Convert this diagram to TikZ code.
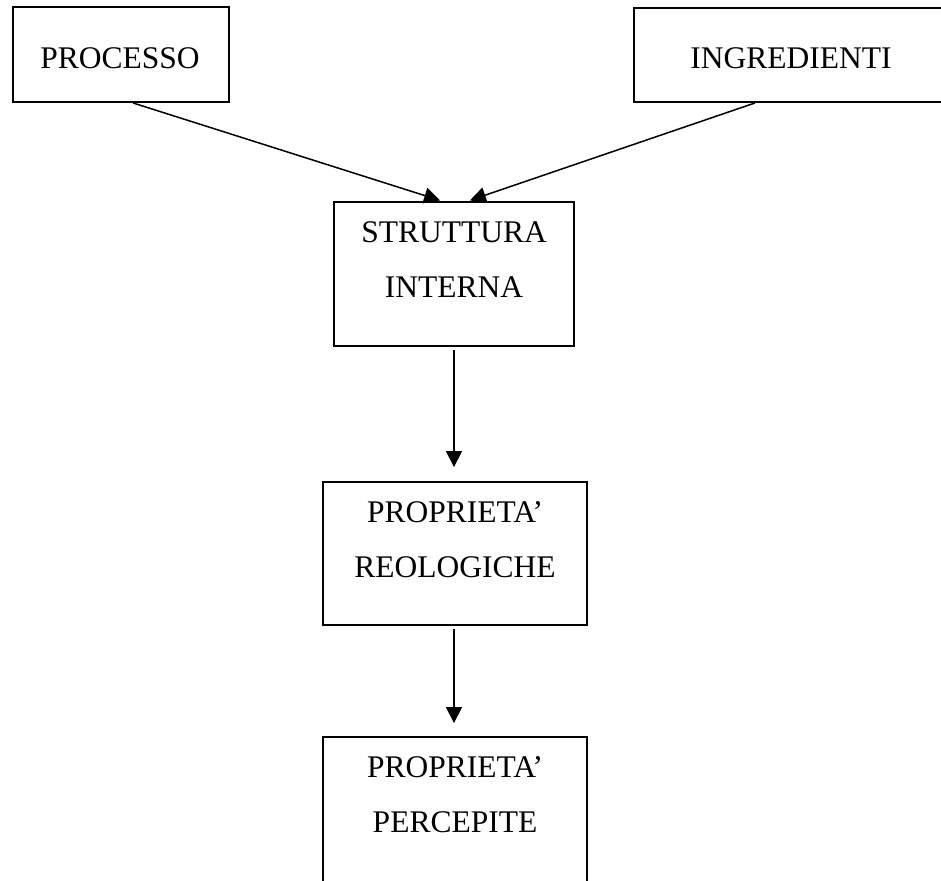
\documentclass[tikz,border=0pt]{standalone}
\usepackage{fontspec}
\setmainfont{Liberation Serif}
\usetikzlibrary{arrows.meta}

\tikzset{
  box/.style={draw=black, line width=1.9pt, fill=none, inner sep=0pt},
  lbl/.style={align=center, inner sep=0pt, font=\fontsize{31.5}{55}\selectfont},
  link/.style={draw=black, line width=1.5pt, -{Triangle[length=16pt,width=16pt]}}
}

\begin{document}
\begin{tikzpicture}[x=1pt, y=-1pt]
  \clip (0,0) rectangle (941,880);
  \fill[white] (0,0) rectangle (941,880);

  % input boxes (the right one runs past the page edge)
  \node[box, minimum width=216pt, minimum height=95pt] (proc) at (121,54.5) {};
  \node[box, minimum width=312pt, minimum height=94pt] (ingr) at (790,55) {};
  \node[lbl] (procT) at (120,58) {PROCESSO};
  \node[lbl] (ingrT) at (791,58) {INGREDIENTI};

  % chain of boxes
  \node[box, minimum width=240pt, minimum height=144pt] (strut) at (454,274) {};
  \node[lbl] (strutT) at (454,259.5) {STRUTTURA\\INTERNA};

  \node[box, minimum width=264pt, minimum height=143pt] (reol) at (455,553.5) {};
  \node[lbl] (reolT) at (455,540) {PROPRIETA’\\REOLOGICHE};

  \node[box, minimum width=264pt, minimum height=170pt] (perc) at (455,822) {};
  \node[lbl] (percT) at (455,795) {PROPRIETA’\\PERCEPITE};

  % connectors
  \draw[link, shorten >=2pt] ([xshift=12pt]proc.south) -- ([xshift=-12pt]strut.north);
  \draw[link, shorten >=2pt] ([xshift=-35pt]ingr.south) -- ([xshift=14pt]strut.north);
  \draw[link, shorten <=3pt, shorten >=14pt] (strut.south) -- (strut.south |- reol.north);
  \draw[link, shorten <=3pt, shorten >=13pt] (reol.south -| strut.south) -- (strut.south |- perc.north);
\end{tikzpicture}
\end{document}
